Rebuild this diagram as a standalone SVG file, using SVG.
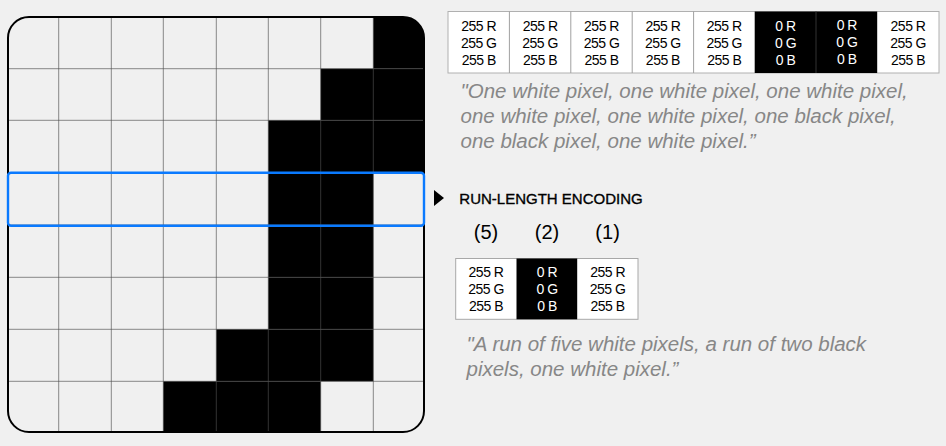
<svg xmlns="http://www.w3.org/2000/svg" width="946" height="446" viewBox="0 0 946 446">
<style>
.bg{fill:#f0f0f0}
.cell{fill:#f0f0f0}
.blk{fill:#000}
.gl{stroke:rgb(79,79,79);stroke-opacity:0.646;stroke-width:1;fill:none}
.tw{fill:#fff}
.tb{fill:#000}
.tbl{font-family:"Liberation Sans",Arial,sans-serif;font-size:14px;text-anchor:middle;letter-spacing:-0.5px}
.dk{fill:#000}
.lt{fill:#fff}
.quote{font-family:"Liberation Sans",Arial,sans-serif;font-size:20.5px;font-style:italic;fill:#878787}
.div{stroke:#a0a0a0;stroke-width:1}
</style>
<defs>
<clipPath id="gridclip"><rect x="8" y="17" width="416" height="415" rx="21"/></clipPath>
</defs>
<rect class="bg" x="0" y="0" width="946" height="446"/>

<g id="pixel-grid">
<g clip-path="url(#gridclip)">
<rect class="cell" x="8" y="17" width="416" height="415"/>
<rect class="blk" x="373.3" y="17" width="51" height="51.7"/>
<rect class="blk" x="320.7" y="68.7" width="103.6" height="51.6"/>
<rect class="blk" x="268.3" y="120.3" width="156" height="52.4"/>
<rect class="blk" x="268.3" y="172.7" width="105" height="52.3"/>
<rect class="blk" x="268.3" y="225" width="105" height="52.3"/>
<rect class="blk" x="268.3" y="277.3" width="105" height="52"/>
<rect class="blk" x="216.3" y="329.3" width="157" height="52"/>
<rect class="blk" x="163.3" y="381.3" width="157.4" height="52"/>
<path class="gl" d="M58.7 17V432M111.3 17V432M163.3 17V432M216.3 17V432M268.3 17V432M320.7 17V432M373.3 17V432M8 68.7H424M8 120.3H424M8 172.7H424M8 225H424M8 277.3H424M8 329.3H424M8 381.3H424"/>
</g>
<rect x="8" y="17" width="416" height="415" rx="21" fill="none" stroke="#000" stroke-width="2"/>
</g>

<g id="row-highlight">
<rect x="8" y="172.7" width="416" height="53" rx="3" fill="none" stroke="#0a7aff" stroke-width="2.4"/>
</g>

<g id="raw-row">
<rect x="448" y="11.5" width="491" height="61.5" fill="#fff" stroke="#b0b0b0" stroke-width="1"/>
<rect class="tb" x="754.7" y="11.5" width="122.5" height="61.5"/>
<path class="div" d="M509.4 11.5V73M570.8 11.5V73M632.2 11.5V73M693.6 11.5V73"/>
<path d="M816 11.5V73" stroke="#333" stroke-width="1"/>
<g class="tbl">
<text class="dk" x="478.7" y="31">255 R<tspan x="478.7" y="48">255 G</tspan><tspan x="478.7" y="65">255 B</tspan></text>
<text class="dk" x="540.1" y="31">255 R<tspan x="540.1" y="48">255 G</tspan><tspan x="540.1" y="65">255 B</tspan></text>
<text class="dk" x="601.5" y="31">255 R<tspan x="601.5" y="48">255 G</tspan><tspan x="601.5" y="65">255 B</tspan></text>
<text class="dk" x="662.9" y="31">255 R<tspan x="662.9" y="48">255 G</tspan><tspan x="662.9" y="65">255 B</tspan></text>
<text class="dk" x="724.2" y="31">255 R<tspan x="724.2" y="48">255 G</tspan><tspan x="724.2" y="65">255 B</tspan></text>
<text class="lt" x="785.5" y="31">0 R<tspan x="785.5" y="48">0 G</tspan><tspan x="785.5" y="65">0 B</tspan></text>
<text class="lt" x="846.8" y="30">0 R<tspan x="846.8" y="47">0 G</tspan><tspan x="846.8" y="64">0 B</tspan></text>
<text class="dk" x="908" y="31">255 R<tspan x="908" y="48">255 G</tspan><tspan x="908" y="65">255 B</tspan></text>
</g>
</g>

<g id="raw-quote">
<text class="quote" x="460.5" y="97.5">"One white pixel, one white pixel, one white pixel,</text>
<text class="quote" x="460.5" y="122.5">one white pixel, one white pixel, one black pixel,</text>
<text class="quote" x="460.5" y="147.5">one black pixel, one white pixel.”</text>
</g>

<g id="rle-heading">
<polygon points="434,190 444,198 434,206" fill="#000"/>
<text x="459.3" y="204" font-family="'Liberation Sans',Arial,sans-serif" font-size="15" fill="#000" stroke="#000" stroke-width="0.35">RUN-LENGTH ENCODING</text>
</g>

<g id="rle-counts" font-family="'Liberation Sans',Arial,sans-serif" font-size="20" text-anchor="middle" fill="#000">
<text x="486" y="238.5">(5)</text>
<text x="547" y="238.5">(2)</text>
<text x="607.6" y="238.5">(1)</text>
</g>

<g id="rle-row">
<rect x="455.7" y="258.5" width="182.3" height="60.8" fill="#fff" stroke="#a8a8a8" stroke-width="1"/>
<rect class="tb" x="516.5" y="258.5" width="60.7" height="60.8"/>
<g class="tbl">
<text class="dk" x="486" y="277">255 R<tspan x="486" y="294">255 G</tspan><tspan x="486" y="310.7">255 B</tspan></text>
<text class="lt" x="547" y="277">0 R<tspan x="547" y="294">0 G</tspan><tspan x="547" y="310.7">0 B</tspan></text>
<text class="dk" x="607.6" y="277">255 R<tspan x="607.6" y="294">255 G</tspan><tspan x="607.6" y="310.7">255 B</tspan></text>
</g>
</g>

<g id="rle-quote">
<text class="quote" x="466.5" y="351">"A run of five white pixels, a run of two black</text>
<text class="quote" x="466.5" y="376">pixels, one white pixel.”</text>
</g>
</svg>
